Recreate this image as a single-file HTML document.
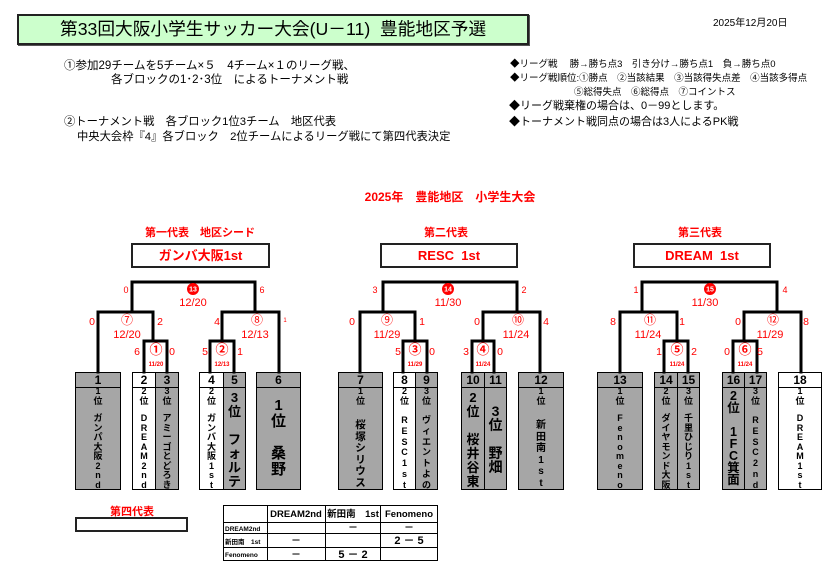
<!DOCTYPE html>
<html><head><meta charset="utf-8"><style>
body{margin:0;width:832px;height:569px;background:#fff;position:relative;overflow:hidden;font-family:"Liberation Sans","Noto Sans CJK JP",sans-serif;}
.a{position:absolute;white-space:nowrap;}
.r{color:#f00;}
.c{transform:translateX(-50%);text-align:center;}
.box{position:absolute;border:1px solid #000;box-sizing:border-box;}
.g{background:#a6a6a6;}
.w{background:#fff;}
.hd{position:absolute;top:0;left:0;right:0;height:14px;border-bottom:1px solid #000;font:bold 12px/14px "Liberation Sans",sans-serif;text-align:center;}
.t{position:absolute;left:0;right:0;text-align:center;font-weight:bold;color:#000;}
.s{font-size:9px;line-height:9.5px;}
</style></head><body>
<!-- header -->
<div class="a" style="left:17px;top:14px;width:508px;height:27px;background:#ccffcc;border:2px solid #222;box-shadow:1px 1px 0 #555;"></div>
<div class="a" style="left:60px;top:17px;font-size:17.7px;line-height:24px;color:#000;">第33回大阪小学生サッカー大会(U－11)&nbsp; 豊能地区予選</div>
<div class="a" style="left:713px;top:14px;font-size:10px;">2025年12月20日</div>
<div class="a" style="left:64px;top:59px;font-size:11.5px;line-height:14px;">①参加29チームを5チーム×５　4チーム×１のリーグ戦、<br><span style="padding-left:47px">各ブロックの1･2･3位　によるトーナメント戦</span></div>
<div class="a" style="left:64px;top:115px;font-size:11.3px;line-height:15px;">②トーナメント戦　各ブロック1位3チーム　地区代表<br><span style="padding-left:13px">中央大会枠『4』各ブロック　2位チームによるリーグ戦にて第四代表決定</span></div>
<div class="a" style="left:510px;top:58px;font-size:9.5px;line-height:14px;">◆リーグ戦　 勝→勝ち点3　引き分け→勝ち点1　負→勝ち点0<br>◆リーグ戦順位:①勝点　②当該結果　③当該得失点差　④当該多得点<br><span style="padding-left:64px">⑤総得失点　⑥総得点　⑦コイントス</span></div>
<div class="a" style="left:509px;top:99px;font-size:11px;line-height:15.5px;">◆リーグ戦棄権の場合は、0－99とします。<br>◆トーナメント戦同点の場合は3人によるPK戦</div>

<div class="a r c" style="left:450px;top:188px;font-size:12px;font-weight:bold;">2025年　豊能地区　小学生大会</div>
<div class="a r c" style="left:200px;top:224px;font-size:11px;font-weight:bold;">第一代表　地区シード</div>
<div class="a r c" style="left:446px;top:224px;font-size:11px;font-weight:bold;">第二代表</div>
<div class="a r c" style="left:700px;top:224px;font-size:11px;font-weight:bold;">第三代表</div>
<div class="a r" style="left:131px;top:243px;width:139px;height:25px;border:2px solid #222;box-sizing:border-box;text-align:center;font:bold 13px/21px 'Liberation Sans','Noto Sans CJK JP',sans-serif;">ガンバ大阪1st</div>
<div class="a r" style="left:380px;top:243px;width:138px;height:25px;border:2px solid #222;box-sizing:border-box;text-align:center;font:bold 13px/21px 'Liberation Sans','Noto Sans CJK JP',sans-serif;">RESC&nbsp; 1st</div>
<div class="a r" style="left:633px;top:243px;width:138px;height:25px;border:2px solid #222;box-sizing:border-box;text-align:center;font:bold 13px/21px 'Liberation Sans','Noto Sans CJK JP',sans-serif;">DREAM&nbsp; 1st</div>

<!-- team boxes -->
<div class="box g" style="left:75px;top:372px;width:46px;height:118px;"><div class="hd">1</div><div class="t s" style="top:14px">1<br>位</div><div class="t s" style="top:41px">ガ<br>ン<br>パ<br>大<br>阪<br>2<br>n<br>d</div></div>
<div class="box w" style="left:132px;top:372px;width:24px;height:118px;"><div class="hd">2</div><div class="t s" style="top:14px">2<br>位</div><div class="t s" style="top:41px">D<br>R<br>E<br>A<br>M<br>2<br>n<br>d</div></div>
<div class="box g" style="left:155px;top:372px;width:24px;height:118px;"><div class="hd">3</div><div class="t s" style="top:14px">3<br>位</div><div class="t s" style="top:41px">ア<br>ミ<br>ー<br>ゴ<br>と<br>ど<br>ろ<br>き</div></div>
<div class="box w" style="left:199px;top:372px;width:25px;height:118px;"><div class="hd">4</div><div class="t s" style="top:14px">2<br>位</div><div class="t s" style="top:41px">ガ<br>ン<br>バ<br>大<br>阪<br>1<br>s<br>t</div></div>
<div class="box g" style="left:223px;top:372px;width:23px;height:118px;"><div class="hd">5</div><div class="t" style="top:18px;font-size:13px;line-height:14px;">3<br>位<br><br>フ<br>ォ<br>ル<br>テ</div></div>
<div class="box g" style="left:256px;top:372px;width:45px;height:118px;"><div class="hd">6</div><div class="t" style="top:25px;font-size:15px;line-height:16px;">1<br>位<br><br>桑<br>野</div></div>

<div class="box g" style="left:338px;top:372px;width:45px;height:118px;"><div class="hd">7</div><div class="t s" style="top:14px">1<br>位</div><div class="t" style="top:47px;font-size:10.5px;line-height:11.6px;">桜<br>塚<br>シ<br>リ<br>ウ<br>ス</div></div>
<div class="box w" style="left:393px;top:372px;width:23px;height:118px;"><div class="hd">8</div><div class="t s" style="top:14px">2<br>位</div><div class="t" style="top:42px;font-size:9px;line-height:10.8px;">R<br>E<br>S<br>C<br>1<br>s<br>t</div></div>
<div class="box g" style="left:415px;top:372px;width:23px;height:118px;"><div class="hd">9</div><div class="t s" style="top:14px">3<br>位</div><div class="t" style="top:42px;font-size:9px;line-height:10.8px;">ヴ<br>ィ<br>エ<br>ン<br>ト<br>よ<br>の</div></div>
<div class="box g" style="left:461px;top:372px;width:24px;height:118px;"><div class="hd">10</div><div class="t" style="top:18px;font-size:13px;line-height:14px;">2<br>位<br><br>桜<br>井<br>谷<br>東</div></div>
<div class="box g" style="left:484px;top:372px;width:23px;height:118px;"><div class="hd">11</div><div class="t" style="top:31px;font-size:14px;line-height:14px;">3<br>位<br><br>野<br>畑</div></div>
<div class="box g" style="left:518px;top:372px;width:46px;height:118px;"><div class="hd">12</div><div class="t s" style="top:14px">1<br>位</div><div class="t" style="top:47px;font-size:10px;line-height:11.6px;">新<br>田<br>南<br>1<br>s<br>t</div></div>

<div class="box g" style="left:597px;top:372px;width:46px;height:118px;"><div class="hd">13</div><div class="t s" style="top:14px">1<br>位</div><div class="t s" style="top:41px">F<br>e<br>n<br>o<br>m<br>e<br>n<br>o</div></div>
<div class="box g" style="left:654px;top:372px;width:24px;height:118px;"><div class="hd">14</div><div class="t s" style="top:14px">2<br>位</div><div class="t s" style="top:41px">ダ<br>イ<br>ヤ<br>モ<br>ン<br>ド<br>大<br>阪</div></div>
<div class="box g" style="left:677px;top:372px;width:23px;height:118px;"><div class="hd">15</div><div class="t s" style="top:14px">3<br>位</div><div class="t s" style="top:41px">千<br>里<br>ひ<br>じ<br>り<br>1<br>s<br>t</div></div>
<div class="box g" style="left:722px;top:372px;width:23px;height:118px;"><div class="hd">16</div><div class="t" style="top:17px;font-size:12.5px;line-height:12px;">2<br>位<br><br>1<br>F<br>C<br>箕<br>面</div></div>
<div class="box g" style="left:744px;top:372px;width:23px;height:118px;"><div class="hd">17</div><div class="t s" style="top:14px">3<br>位</div><div class="t" style="top:42px;font-size:9px;line-height:10.8px;">R<br>E<br>S<br>C<br>2<br>n<br>d</div></div>
<div class="box w" style="left:778px;top:372px;width:44px;height:118px;"><div class="hd">18</div><div class="t s" style="top:14px">1<br>位</div><div class="t s" style="top:41px">D<br>R<br>E<br>A<br>M<br>1<br>s<br>t</div></div>

<!-- brackets -->
<svg class="a" style="left:0;top:0" width="832" height="569">
<g fill="#fff"><rect x="145" y="342" width="21" height="30"/><rect x="211" y="342" width="22" height="30"/><rect x="404" y="342" width="22" height="30"/><rect x="473" y="342" width="20" height="30"/><rect x="665" y="342" width="22" height="30"/><rect x="734" y="342" width="22" height="30"/></g>
<g fill="none" stroke="#000" stroke-width="3" stroke-linecap="square">
<path d="M144 372V341H167V372M98 372V312H153V341M210 372V341H234V372M222 341V312H279V372M132 312V282H255V312"/>
<path d="M403 372V341H427V372M360 372V312H415V341M472 372V341H494V372M483 341V312H540V372M383 312V282H517V312"/>
<path d="M664 372V341H688V372M620 372V312H677V341M733 372V341H757V372M744 341V312H801V372M642 312V282H777V312"/>
</g>
<g fill="#f00"><circle cx="193" cy="289" r="6"/><circle cx="448" cy="289" r="6"/><circle cx="710" cy="289" r="6"/></g>
<g fill="#fff" font-family="Liberation Sans" font-weight="bold" font-size="7" text-anchor="middle"><text x="193" y="291.5">13</text><text x="448" y="291.5">14</text><text x="710" y="291.5">15</text></g>
<g fill="#f00" font-family="Liberation Sans,Noto Sans CJK JP,sans-serif" font-size="11" text-anchor="middle">
<text x="193" y="306">12/20</text><text x="448" y="306">11/30</text><text x="705" y="306">11/30</text>
<text x="127" y="324" font-size="12">⑦</text><text x="127" y="338">12/20</text>
<text x="257" y="324" font-size="12">⑧</text><text x="255" y="338">12/13</text>
<text x="387" y="324" font-size="12">⑨</text><text x="387" y="338">11/29</text>
<text x="518" y="324" font-size="12">⑩</text><text x="516" y="338">11/24</text>
<text x="650" y="324" font-size="12">⑪</text><text x="648" y="338">11/24</text>
<text x="773" y="324" font-size="12">⑫</text><text x="770" y="338">11/29</text>
<g font-weight="bold" font-size="13"><text x="156" y="354">①</text><text x="222" y="354">②</text><text x="415" y="354">③</text><text x="483" y="354">④</text><text x="677" y="354">⑤</text><text x="745" y="354">⑥</text></g>
<g font-weight="bold" font-size="6"><text x="156" y="366">11/20</text><text x="222" y="366">12/13</text><text x="415" y="366">11/29</text><text x="483" y="366">11/24</text><text x="677" y="366">11/24</text><text x="745" y="366">11/24</text></g>
<g font-size="9"><text x="126" y="293">0</text><text x="262" y="293">6</text><text x="375" y="293">3</text><text x="524" y="293">2</text><text x="636" y="293">1</text><text x="785" y="293">4</text></g>
<g font-size="10.5"><text x="92" y="325">0</text><text x="160" y="325">2</text><text x="217" y="325">4</text><text x="352" y="325">0</text><text x="422" y="325">1</text><text x="477" y="325">0</text><text x="546" y="325">4</text><text x="613" y="325">8</text><text x="682" y="325">1</text><text x="738" y="325">0</text><text x="806" y="325">8</text>
<text x="137" y="355">6</text><text x="172" y="355">0</text><text x="205" y="355">5</text><text x="240" y="355">1</text><text x="398" y="355">5</text><text x="432" y="355">0</text><text x="466" y="355">3</text><text x="500" y="355">0</text><text x="659" y="355">1</text><text x="694" y="355">2</text><text x="727" y="355">0</text><text x="760" y="355">5</text></g>
<text x="285" y="322" font-size="6">1</text>
</g>
<!-- table -->
<g stroke="#000" stroke-width="1" fill="none"><rect x="223.5" y="505.5" width="214" height="55"/><path d="M223 522.5H438M223 533.5H438M223 547.5H438M267.5 505V561M325.5 505V561M380.5 505V561"/></g>
<g font-family="Liberation Sans,Noto Sans CJK JP,sans-serif" font-weight="bold" fill="#000">
<text x="296" y="517" font-size="9.5" text-anchor="middle">DREAM2nd</text><text x="353" y="517" font-size="9.5" text-anchor="middle">新田南　1st</text><text x="409" y="517" font-size="9.5" text-anchor="middle">Fenomeno</text>
<text x="225" y="531" font-size="6.5">DREAM2nd</text><text x="225" y="544" font-size="6.5">新田南　1st</text><text x="225" y="557" font-size="6.5">Fenomeno</text>
<text x="353" y="531" font-size="10" text-anchor="middle">－</text><text x="409" y="531" font-size="10" text-anchor="middle">－</text>
<text x="296" y="544" font-size="10" text-anchor="middle">－</text><text x="409" y="544" font-size="11" text-anchor="middle">2 － 5</text>
<text x="296" y="558" font-size="10" text-anchor="middle">－</text><text x="353" y="558" font-size="11" text-anchor="middle">5 － 2</text>
</g>
</svg>
<div class="a r c" style="left:132px;top:503px;font-size:11px;font-weight:bold;">第四代表</div>
<div class="a" style="left:75px;top:517px;width:113px;height:15px;border:2px solid #222;box-sizing:border-box;"></div>
</body></html>
